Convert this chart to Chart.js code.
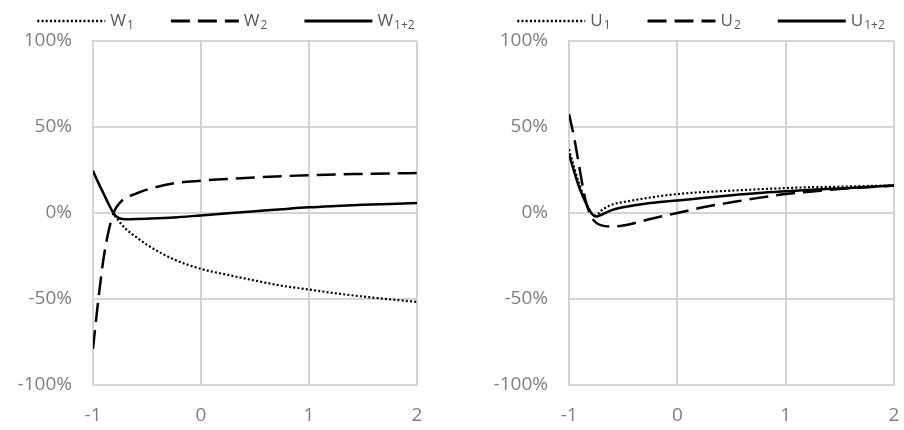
<!DOCTYPE html>
<html>
<head>
<meta charset="utf-8">
<title>W and U</title>
<script src="https://cdn.jsdelivr.net/npm/chart.js@4.4.1/dist/chart.umd.min.js"></script>
<style>
    html, body { margin: 0; padding: 0; background: #fff; overflow: hidden; width: 904px; height: 430px; }
    .panel { position: absolute; top: 0; width: 452px; height: 430px; }
    #leftPanel { left: 0; }
    #rightPanel { left: 475px; }
</style>
</head>
<body>
<div class="panel" id="leftPanel"><canvas id="wChart" width="452" height="430"></canvas></div>
<div class="panel" id="rightPanel"><canvas id="uChart" width="452" height="430"></canvas></div>
<script>
// shared x positions
const xValues = [-1, -0.95, -0.9, -0.85, -0.8, -0.75, -0.7, -0.6, -0.5, -0.25, 0, 0.25, 0.5, 0.75, 1, 1.25, 1.5, 1.75, 2];

// left panel, values in %
const w1  = [null, null, null, null, -1.5, -5.5, -9, -14, -18.5, -27, -32.5, -36, -39.3, -42.3, -44.5, -46.7, -48.6, -50.2, -51.7];
const w2  = [-79, -50, -25.5, -9, 1.5, 6, 8.7, 11.3, 13.6, 17.3, 18.8, 19.8, 20.7, 21.4, 22, 22.4, 22.7, 23, 23.2];
const w12 = [24.5, 17.5, 11, 4.5, -1, -3.2, -3.6, -3.5, -3.3, -2.6, -1.4, -0.2, 1, 2.2, 3.3, 4.1, 4.8, 5.3, 5.8];

// right panel, values in %
const u1  = [37, 26, 16, 7.5, 0.5, -1.5, 1.5, 5, 6.3, 9, 11, 12.2, 13, 13.8, 14.5, 15, 15.3, 15.7, 16];
const u2  = [57.6, 43, 25, 8, -1.5, -5.6, -7.2, -7.8, -7.3, -3.5, 0, 3.5, 6.2, 8.8, 11, 12.5, 14, 15, 16];
const u12 = [34.5, 23.5, 14, 6.5, 0.5, -2, -1, 1.8, 3.3, 5.8, 7.3, 8.8, 10.3, 11.6, 12.6, 13.5, 14.3, 15.1, 16];

// axis ticks
const xTicks = [-1, 0, 1, 2];
const yTicks = [-100, -50, 0, 50, 100];

// legend names: base letter + subscript
const seriesSubs = ['1', '2', '1+2'];

const tickFont = { family: '"Open Sans", "DejaVu Sans", sans-serif', size: 19 };
const gridColor = '#d4d4d4';
const legendFamily = '"Open Sans", "DejaVu Sans", sans-serif';

// line styles: dotted, long dash, solid
const lineStyles = [
    { borderWidth: 2.2, borderDash: [2, 2.2] },
    { borderWidth: 2.5, borderDash: [19, 8] },
    { borderWidth: 2.5, borderDash: [] }
];

function toPoints(values) {
    return xValues.map((x, i) => ({ x: x, y: values[i] }));
}

// Legend with line samples above the plot
const lineLegend = {
    id: 'lineLegend',
    afterDraw(chart, args, opts) {
        const ctx = chart.ctx;
        const datasets = chart.data.datasets;
        const baseFont = '17px ' + legendFamily;
        const subFont = '12px ' + legendFamily;
        ctx.save();
        ctx.textBaseline = 'middle';

        const widths = datasets.map(ds => {
            ctx.font = baseFont;
            const w = ctx.measureText(ds.base).width;
            ctx.font = subFont;
            return opts.lineLength + opts.textGap + w + 1 + ctx.measureText(ds.sub).width;
        });
        const total = widths.reduce((a, b) => a + b, 0) + opts.itemGap * (datasets.length - 1);
        let x = opts.center - total / 2;

        datasets.forEach((ds, i) => {
            ctx.strokeStyle = ds.borderColor;
            ctx.lineWidth = ds.borderWidth + 0.5;
            ctx.setLineDash(ds.borderDash);
            ctx.beginPath();
            ctx.moveTo(x, opts.y);
            ctx.lineTo(x + opts.lineLength, opts.y);
            ctx.stroke();
            ctx.setLineDash([]);

            ctx.fillStyle = '#595959';
            const tx = x + opts.lineLength + opts.textGap;
            ctx.font = baseFont;
            ctx.fillText(ds.base, tx, opts.y);
            const bw = ctx.measureText(ds.base).width;
            ctx.font = subFont;
            ctx.fillText(ds.sub, tx + bw + 1, opts.y + 5);
            x += widths[i] + opts.itemGap;
        });
        ctx.restore();
    }
};

function buildChart(canvasId, letter, series, plotLeft, plotRight) {
    const datasets = series.map((values, i) => ({
        label: letter + seriesSubs[i],
        base: letter,
        sub: seriesSubs[i],
        data: toPoints(values),
        borderColor: '#000000',
        borderWidth: lineStyles[i].borderWidth,
        borderDash: lineStyles[i].borderDash,
        pointRadius: 0,
        fill: false,
        cubicInterpolationMode: 'monotone',
        spanGaps: false
    }));
    // draw solid on top, then dashed, then dotted
    datasets.forEach((ds, i) => { ds.order = 2 - i; });

    return new Chart(document.getElementById(canvasId), {
        type: 'line',
        data: { datasets: datasets },
        options: {
            responsive: false,
            animation: false,
            layout: { padding: { top: 41, right: 452 - plotRight, bottom: 0, left: 0 } },
            plugins: {
                legend: { display: false },
                tooltip: { enabled: false },
                lineLegend: { center: 226, y: 21, lineLength: 68, textGap: 5, itemGap: 37 }
            },
            scales: {
                x: {
                    type: 'linear',
                    min: xTicks[0],
                    max: xTicks[xTicks.length - 1],
                    afterBuildTicks: scale => { scale.ticks = xTicks.map(v => ({ value: v })); },
                    afterFit: scale => { scale.height = 45; },
                    grid: { color: gridColor, lineWidth: 2, drawTicks: false },
                    border: { color: gridColor, width: 2 },
                    ticks: { color: '#7f7f7f', font: tickFont, padding: 19, maxRotation: 0 }
                },
                y: {
                    type: 'linear',
                    min: yTicks[0],
                    max: yTicks[yTicks.length - 1],
                    afterBuildTicks: scale => { scale.ticks = yTicks.map(v => ({ value: v })); },
                    afterFit: scale => { scale.width = plotLeft; },
                    grid: { color: gridColor, lineWidth: 2, drawTicks: false },
                    border: { color: gridColor, width: 2 },
                    ticks: { color: '#7f7f7f', font: tickFont, padding: 21, callback: v => v + '%' }
                }
            }
        },
        plugins: [lineLegend]
    });
}

document.addEventListener('DOMContentLoaded', () => {
    buildChart('wChart', 'W', [w1, w2, w12], 93, 417);
    buildChart('uChart', 'U', [u1, u2, u12], 94, 419);
});
</script>
</body>
</html>
